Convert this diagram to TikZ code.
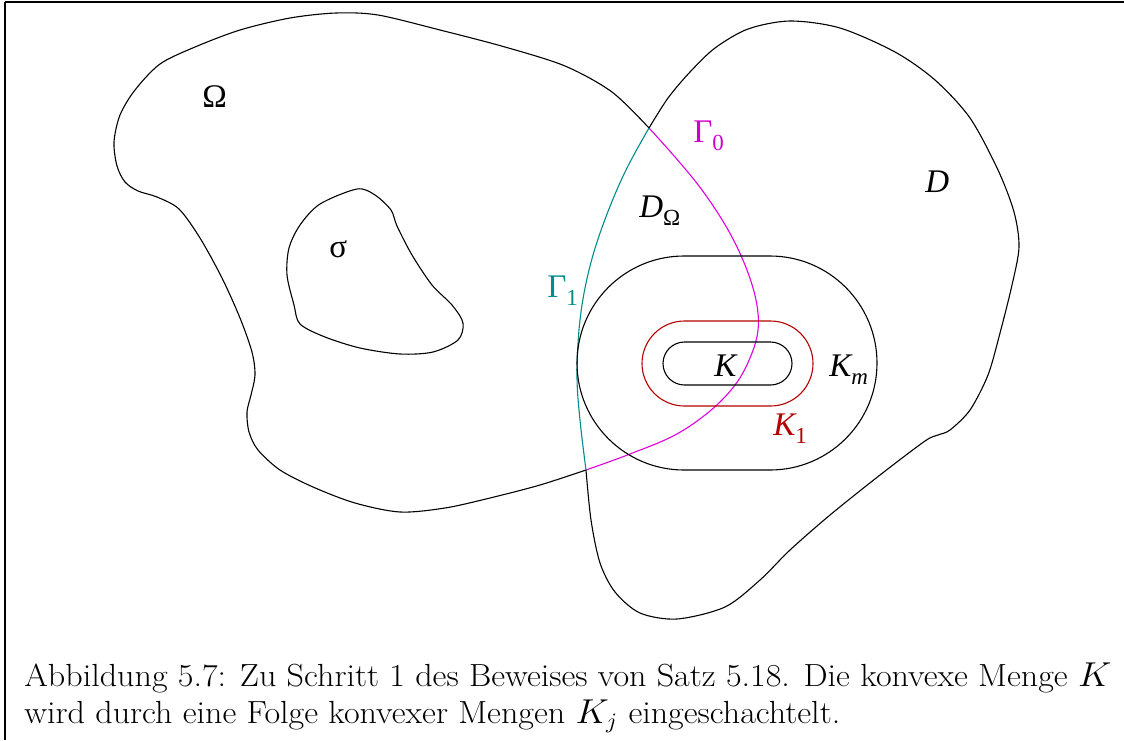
\documentclass[tikz,border=0pt]{standalone}
\usepackage{fontspec}
\newfontfamily\labfont{Liberation Serif}
\definecolor{gmag}{RGB}{225,0,225}
\definecolor{gmagtext}{RGB}{205,0,205}
\definecolor{gteal}{RGB}{0,140,140}
\definecolor{gred}{RGB}{180,0,0}
\tikzset{
  curve/.style={line width=0.55pt, line join=round},
  lab/.style={inner sep=0pt, anchor=base west, font=\labfont\fontsize{16.5}{18}\selectfont},
  captionline/.style={inner sep=0pt, anchor=base west, font=\fontsize{16}{18.5}\selectfont},
  frameline/.style={line width=1pt}
}
\newcommand{\subs}[1]{\raisebox{-4pt}{\fontsize{11.5}{12}\selectfont #1}}
\begin{document}
\begin{tikzpicture}[x=0.5pt,y=-0.5pt]
\useasboundingbox (0,0) rectangle (1124,740);
% frame
\draw[frameline] (5,2) -- (1124,2);
\draw[frameline] (5,2) -- (5,740);
% Omega, black part
\draw[curve] plot[smooth, tension=0.5] coordinates {
 (649,128) (612,92) (565,66) (505,47) (440,30) (378,15) (336,13) (290,18) (240,30)
 (195,47) (160,64) (135,90) (120,115) (114,142) (117,166) (125,182) (138,191)
 (157,197) (179,209) (200,238) (222,278) (240,318) (252,352) (255,375) (251,395)
 (247,412) (249,432) (258,450) (280,470) (313,487) (355,503) (400,512) (445,508)
 (490,498) (540,485) (586,470)};
% Omega, Gamma_0 part
\draw[curve, gmag] plot[smooth, tension=0.6] coordinates {
 (649,128) (675,157) (702,190) (727,228) (745,265) (756,300) (758,330) (750,358)
 (735,385) (710,411) (675,435) (630,454) (586,470)};
% D, black part
\draw[curve] plot[smooth, tension=0.5] coordinates {
 (649,128) (668,98) (690,72) (715,48) (748,29) (790,21) (840,28) (895,52) (935,80)
 (970,118) (998,170) (1014,212) (1019,247) (1012,285) (1000,333) (988,375) (970,410)
 (950,430) (938,435) (925,441) (880,475) (830,515) (790,550) (760,580) (725,607)
 (677,619) (640,613) (615,592) (600,563) (591,520) (586,470)};
% D, Gamma_1 part
\draw[curve, gteal] plot[smooth, tension=0.6] coordinates {
 (586,470) (580,420) (577,375) (580,320) (589,270) (604,222) (625,172) (649,128)};
% sigma
\draw[curve] plot[smooth cycle, tension=0.5] coordinates {
 (357,189) (375,195) (391,210) (397,226) (412,255) (432,285) (452,305) (463,323)
 (458,340) (433,352) (400,354) (360,348) (325,337) (300,324) (294,305) (287,275)
 (289,248) (300,225) (320,204)};
% K_m, K_1, K
\draw[curve, rounded corners=53.5pt] (577,256) rectangle (877,470);
\draw[curve, gred, rounded corners=21.25pt] (642,321) rectangle (813,406);
\draw[curve, rounded corners=10.75pt] (663,342) rectangle (792,385);
% labels
\node[lab] (lOmega) at (202,107) {Ω};
\node[lab] (lsigma) at (329,257) {σ};
\node[lab, text=gmagtext] (lG0) at (693,142) {Γ\subs{0}};
\node[lab] (lD) at (925,192) {\itshape D};
\node[lab] (lDO) at (639,217) {\itshape D\subs{\upshape Ω}};
\node[lab, text=gteal] (lG1) at (547,297) {Γ\subs{1}};
\node[lab] (lK) at (714,376) {\itshape K};
\node[lab] (lKm) at (829,376) {\itshape K\subs{m}};
\node[lab, text=gred] (lK1) at (773,435) {\itshape K\subs{\upshape 1}};
% caption
\node[captionline] (cap1) at (24,686) {\scalebox{1.064}[1]{Abbildung 5.7: Zu Schritt 1 des Beweises von Satz 5.18. Die konvexe Menge $K$}};
\node[captionline] (cap2) at (24,723) {\scalebox{1.064}[1]{wird durch eine Folge konvexer Mengen $K_j$ eingeschachtelt.}};
\end{tikzpicture}
\end{document}
